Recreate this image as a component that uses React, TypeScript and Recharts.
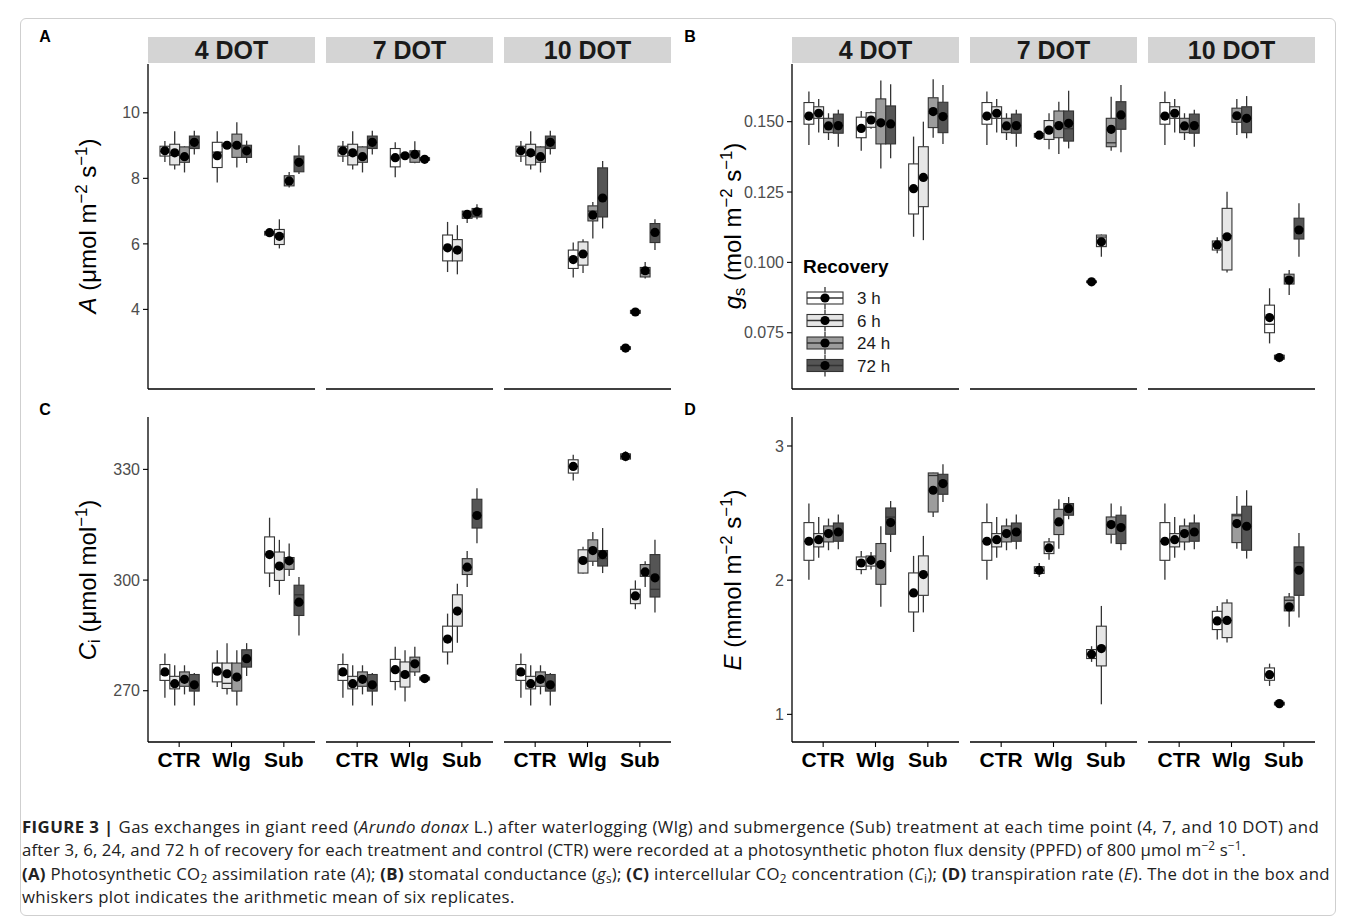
import React from 'react';
import { BarChart, Bar, XAxis, YAxis } from 'recharts';

const TREATMENTS = ['CTR', 'Wlg', 'Sub'];
const RECOVERY = ['3 h', '6 h', '24 h', '72 h'];
const DOT_LABELS = ['4 DOT', '7 DOT', '10 DOT'];
const RECOVERY_FILLS = ['#ffffff', '#e6e6e6', '#9c9c9c', '#555555'];

// each box: [min, q1, median, q3, max, mean], one row per recovery time (3, 6, 24, 72 h)
type Box = number[];

// ---- A: net CO2 assimilation ----
const A_CTR: Box[] = [
  [8.50, 8.68, 8.82, 8.98, 9.14, 8.84],
  [8.27, 8.41, 8.70, 9.04, 9.44, 8.78],
  [8.18, 8.49, 8.62, 8.96, 8.98, 8.66],
  [8.73, 8.91, 9.10, 9.29, 9.45, 9.10],
];
const A_4DOT_WLG: Box[] = [
  [7.87, 8.33, 8.80, 9.10, 9.44, 8.69],
  [8.95, 8.98, 9.01, 9.04, 9.06, 9.01],
  [8.33, 8.64, 9.00, 9.35, 9.71, 9.01],
  [8.47, 8.64, 8.84, 9.01, 9.15, 8.84],
];
const A_4DOT_SUB: Box[] = [
  [6.24, 6.27, 6.33, 6.38, 6.42, 6.34],
  [5.86, 5.98, 6.30, 6.44, 6.75, 6.23],
  [7.72, 7.77, 7.92, 8.08, 8.19, 7.92],
  [8.13, 8.20, 8.50, 8.68, 9.01, 8.49],
];
const A_7DOT_WLG: Box[] = [
  [8.03, 8.35, 8.62, 8.91, 9.10, 8.63],
  [8.62, 8.65, 8.69, 8.73, 8.76, 8.69],
  [8.46, 8.49, 8.72, 8.84, 9.13, 8.73],
  [8.50, 8.55, 8.58, 8.63, 8.65, 8.58],
];
const A_7DOT_SUB: Box[] = [
  [5.14, 5.48, 5.85, 6.27, 6.67, 5.88],
  [5.07, 5.48, 5.80, 6.13, 6.57, 5.81],
  [6.64, 6.78, 6.90, 7.00, 7.02, 6.90],
  [6.75, 6.82, 6.98, 7.08, 7.21, 6.98],
];
const A_10DOT_WLG: Box[] = [
  [4.97, 5.25, 5.55, 5.81, 6.04, 5.52],
  [5.11, 5.35, 5.70, 6.06, 6.14, 5.69],
  [6.16, 6.70, 7.00, 7.16, 7.28, 6.88],
  [6.47, 6.82, 7.40, 8.32, 8.53, 7.40],
];
const A_10DOT_SUB: Box[] = [
  [2.75, 2.78, 2.82, 2.86, 2.90, 2.82],
  [3.85, 3.88, 3.92, 3.97, 4.00, 3.92],
  [4.94, 4.99, 5.10, 5.28, 5.45, 5.18],
  [5.81, 6.04, 6.35, 6.62, 6.75, 6.35],
];

// ---- B: stomatal conductance ----
const B_CTR: Box[] = [
  [0.1417, 0.1491, 0.1520, 0.1568, 0.1607, 0.1520],
  [0.1462, 0.1512, 0.1530, 0.1553, 0.1581, 0.1530],
  [0.1435, 0.1461, 0.1485, 0.1512, 0.1530, 0.1485],
  [0.1411, 0.1459, 0.1486, 0.1527, 0.1542, 0.1486],
];
const B_4DOT_WLG: Box[] = [
  [0.1397, 0.1443, 0.1480, 0.1516, 0.1538, 0.1476],
  [0.1475, 0.1480, 0.1506, 0.1532, 0.1536, 0.1506],
  [0.1334, 0.1421, 0.1500, 0.1581, 0.1646, 0.1496],
  [0.1370, 0.1421, 0.1495, 0.1556, 0.1633, 0.1492],
];
const B_4DOT_SUB: Box[] = [
  [0.1091, 0.1172, 0.1265, 0.1350, 0.1447, 0.1262],
  [0.1079, 0.1198, 0.1300, 0.1411, 0.1500, 0.1302],
  [0.1443, 0.1479, 0.1530, 0.1585, 0.1651, 0.1536],
  [0.1421, 0.1461, 0.1520, 0.1569, 0.1630, 0.1518],
];
const B_7DOT_WLG: Box[] = [
  [0.1442, 0.1445, 0.1452, 0.1458, 0.1461, 0.1452],
  [0.1402, 0.1437, 0.1472, 0.1504, 0.1530, 0.1470],
  [0.1385, 0.1443, 0.1486, 0.1538, 0.1571, 0.1486],
  [0.1405, 0.1431, 0.1475, 0.1538, 0.1610, 0.1494],
];
const B_7DOT_SUB: Box[] = [
  [0.0926, 0.0928, 0.0931, 0.0934, 0.0936, 0.0931],
  [0.1020, 0.1056, 0.1090, 0.1097, 0.1099, 0.1073],
  [0.1397, 0.1411, 0.1425, 0.1512, 0.1589, 0.1473],
  [0.1391, 0.1473, 0.1520, 0.1571, 0.1630, 0.1524],
];
const B_10DOT_WLG: Box[] = [
  [0.1032, 0.1044, 0.1062, 0.1076, 0.1089, 0.1062],
  [0.0964, 0.0973, 0.1095, 0.1192, 0.1251, 0.1091],
  [0.1453, 0.1498, 0.1521, 0.1548, 0.1581, 0.1521],
  [0.1441, 0.1461, 0.1512, 0.1553, 0.1591, 0.1512],
];
const B_10DOT_SUB: Box[] = [
  [0.0712, 0.0750, 0.0780, 0.0848, 0.0908, 0.0804],
  [0.0645, 0.0656, 0.0662, 0.0670, 0.0678, 0.0662],
  [0.0884, 0.0923, 0.0945, 0.0958, 0.0973, 0.0937],
  [0.1020, 0.1083, 0.1120, 0.1157, 0.1210, 0.1115],
];

// ---- C: intercellular CO2 ----
const C_CTR: Box[] = [
  [268.1, 272.8, 274.5, 277.1, 280.1, 275.1],
  [266.0, 270.5, 272.0, 273.9, 276.9, 271.9],
  [269.0, 271.2, 273.0, 275.1, 276.9, 273.1],
  [266.0, 269.9, 271.5, 274.4, 274.8, 271.6],
];
const C_4DOT_WLG: Box[] = [
  [271.0, 272.4, 275.0, 277.5, 281.0, 275.3],
  [269.0, 270.6, 272.0, 277.5, 282.9, 274.6],
  [266.0, 269.9, 273.5, 277.5, 281.0, 273.7],
  [274.0, 276.4, 278.5, 281.1, 282.9, 278.7],
];
const C_4DOT_SUB: Box[] = [
  [298.1, 301.9, 307.0, 311.7, 316.9, 306.9],
  [296.0, 299.9, 303.5, 307.6, 310.9, 303.8],
  [301.1, 302.9, 305.0, 306.1, 309.9, 305.2],
  [285.0, 290.4, 296.0, 298.6, 300.8, 294.0],
];
const C_7DOT_WLG: Box[] = [
  [270.1, 272.5, 275.5, 278.5, 281.9, 275.7],
  [267.1, 271.0, 274.0, 277.8, 281.0, 274.4],
  [274.0, 275.1, 277.5, 279.1, 281.9, 277.3],
  [272.5, 272.9, 273.3, 273.7, 274.2, 273.3],
];
const C_7DOT_SUB: Box[] = [
  [277.1, 280.5, 284.0, 287.5, 290.9, 284.0],
  [283.0, 287.5, 291.5, 296.0, 299.0, 291.6],
  [298.1, 301.5, 303.5, 305.8, 307.9, 303.5],
  [310.0, 314.1, 317.5, 321.9, 324.9, 317.5],
];
const C_10DOT_WLG: Box[] = [
  [327.0, 329.0, 330.8, 332.6, 334.0, 330.8],
  [301.8, 301.9, 305.0, 308.2, 309.0, 305.3],
  [303.8, 305.1, 308.0, 310.9, 313.0, 308.0],
  [301.9, 303.8, 305.8, 308.0, 314.1, 306.9],
];
const C_10DOT_SUB: Box[] = [
  [332.2, 332.8, 333.5, 334.2, 334.9, 333.5],
  [292.1, 293.6, 296.0, 297.5, 299.9, 295.7],
  [298.1, 301.0, 302.5, 304.2, 305.1, 302.2],
  [291.2, 295.4, 297.5, 306.9, 310.9, 300.6],
];

// ---- D: transpiration ----
const D_CTR: Box[] = [
  [2.004, 2.148, 2.29, 2.429, 2.571, 2.290],
  [2.168, 2.248, 2.30, 2.347, 2.471, 2.302],
  [2.223, 2.285, 2.35, 2.404, 2.459, 2.347],
  [2.230, 2.290, 2.36, 2.426, 2.489, 2.359],
];
const D_4DOT_WLG: Box[] = [
  [2.044, 2.079, 2.13, 2.173, 2.218, 2.128],
  [2.080, 2.105, 2.15, 2.180, 2.210, 2.148],
  [1.801, 1.969, 2.12, 2.273, 2.402, 2.116],
  [2.210, 2.342, 2.47, 2.538, 2.590, 2.429],
];
const D_4DOT_SUB: Box[] = [
  [1.614, 1.763, 1.90, 2.054, 2.181, 1.905],
  [1.760, 1.887, 2.04, 2.181, 2.330, 2.042],
  [2.471, 2.508, 2.78, 2.799, 2.800, 2.670],
  [2.583, 2.640, 2.72, 2.789, 2.864, 2.720],
];
const D_7DOT_WLG: Box[] = [
  [2.024, 2.050, 2.074, 2.100, 2.128, 2.074],
  [2.153, 2.198, 2.24, 2.285, 2.315, 2.240],
  [2.235, 2.340, 2.43, 2.528, 2.603, 2.434],
  [2.454, 2.484, 2.53, 2.571, 2.620, 2.533],
];
const D_7DOT_SUB: Box[] = [
  [1.391, 1.416, 1.45, 1.483, 1.508, 1.448],
  [1.075, 1.361, 1.50, 1.657, 1.808, 1.490],
  [2.273, 2.342, 2.41, 2.471, 2.571, 2.414],
  [2.223, 2.273, 2.40, 2.484, 2.551, 2.392],
];
const D_10DOT_WLG: Box[] = [
  [1.557, 1.632, 1.70, 1.768, 1.808, 1.696],
  [1.535, 1.572, 1.70, 1.830, 1.858, 1.700],
  [2.235, 2.280, 2.48, 2.491, 2.628, 2.422],
  [2.161, 2.223, 2.40, 2.551, 2.670, 2.402],
];
const D_10DOT_SUB: Box[] = [
  [1.212, 1.254, 1.30, 1.346, 1.378, 1.296],
  [1.060, 1.070, 1.08, 1.090, 1.100, 1.080],
  [1.652, 1.771, 1.85, 1.875, 1.905, 1.801],
  [1.721, 1.887, 2.13, 2.248, 2.352, 2.074],
];

const A_TICKS = [4, 6, 8, 10];
const B_TICKS = [0.075, 0.1, 0.125, 0.15];
const C_TICKS = [270, 300, 330];
const D_TICKS = [1, 2, 3];

const FONT = '"Liberation Sans", Arial, sans-serif';
const FACET_W = 167;
const FACET_STEP = 178;
const PLOT_H = 325;
const Y_AXIS_W = 60;
const OUTLINE = '#333333';

interface PanelDef {
  facets: Box[][][]; // [dot][treatment][recovery]
  domain: [number, number];
  ticks: number[];
  fmt: (v: number) => string;
  axisX: number;
  plotTop: number;
  bottomRow: boolean;
}

const PANELS: PanelDef[] = [
  {
    facets: [[A_CTR, A_4DOT_WLG, A_4DOT_SUB], [A_CTR, A_7DOT_WLG, A_7DOT_SUB], [A_CTR, A_10DOT_WLG, A_10DOT_SUB]],
    domain: [1.57, 11.49], ticks: A_TICKS, fmt: (v) => String(v), axisX: 148, plotTop: 64, bottomRow: false,
  },
  {
    facets: [[B_CTR, B_4DOT_WLG, B_4DOT_SUB], [B_CTR, B_7DOT_WLG, B_7DOT_SUB], [B_CTR, B_10DOT_WLG, B_10DOT_SUB]],
    domain: [0.055, 0.1705], ticks: B_TICKS, fmt: (v) => v.toFixed(3), axisX: 792, plotTop: 64, bottomRow: false,
  },
  {
    facets: [[C_CTR, C_4DOT_WLG, C_4DOT_SUB], [C_CTR, C_7DOT_WLG, C_7DOT_SUB], [C_CTR, C_10DOT_WLG, C_10DOT_SUB]],
    domain: [256.1, 344.2], ticks: C_TICKS, fmt: (v) => String(v), axisX: 148, plotTop: 417, bottomRow: true,
  },
  {
    facets: [[D_CTR, D_4DOT_WLG, D_4DOT_SUB], [D_CTR, D_7DOT_WLG, D_7DOT_SUB], [D_CTR, D_10DOT_WLG, D_10DOT_SUB]],
    domain: [0.794, 3.216], ticks: D_TICKS, fmt: (v) => String(v), axisX: 792, plotTop: 417, bottomRow: true,
  },
];

// draws one box + whiskers + mean dot; pixel positions come from the range bar [min, max]
function BoxShape(props: any) {
  const { x, y, width, height, payload, idx } = props;
  const b: Box = payload.boxes[idx];
  const [lo, q1, med, q3, hi, mean] = b;
  const k = height / (hi - lo);
  const py = (v: number) => y + (hi - v) * k;
  const cx = x + width / 2;
  return (
    <g>
      <line x1={cx} x2={cx} y1={py(hi)} y2={py(q3)} stroke={OUTLINE} strokeWidth={1.3} />
      <line x1={cx} x2={cx} y1={py(q1)} y2={py(lo)} stroke={OUTLINE} strokeWidth={1.3} />
      <rect x={x} y={py(q3)} width={width} height={Math.max(py(q1) - py(q3), 0.5)}
        fill={RECOVERY_FILLS[idx]} stroke={OUTLINE} strokeWidth={1.1} />
      <line x1={x} x2={x + width} y1={py(med)} y2={py(med)} stroke={OUTLINE} strokeWidth={1.3} />
      <circle cx={cx} cy={py(mean)} r={4.6} fill="#000" />
    </g>
  );
}

function Facet({ panel, dotIdx }: { panel: PanelDef; dotIdx: number }) {
  const boxes = panel.facets[dotIdx];
  const data = TREATMENTS.map((name, i) => ({
    name,
    boxes: boxes[i],
    r0: [boxes[i][0][0], boxes[i][0][4]],
    r1: [boxes[i][1][0], boxes[i][1][4]],
    r2: [boxes[i][2][0], boxes[i][2][4]],
    r3: [boxes[i][3][0], boxes[i][3][4]],
  }));
  const showY = dotIdx === 0;
  const facetLeft = panel.axisX + dotIdx * FACET_STEP;
  const xAxisH = panel.bottomRow ? 42 : 10;
  const width = FACET_W + (showY ? Y_AXIS_W : 0);
  return (
    <div style={{ position: 'absolute', left: facetLeft - (showY ? Y_AXIS_W : 0), top: panel.plotTop }}>
      <BarChart width={width} height={PLOT_H + xAxisH} data={data}
        margin={{ top: 0, right: 0, bottom: 0, left: 0 }} barSize={9.8} barGap={0}>
        <XAxis dataKey="name" padding={{ left: 5, right: 5 }} height={xAxisH}
          axisLine={{ stroke: '#000', strokeWidth: 1.3 }} tickLine={{ stroke: '#000', strokeWidth: 1.1 }}
          tickSize={5} tickMargin={5} interval={0}
          tick={panel.bottomRow ? { fontSize: 21, fontWeight: 700, fill: '#000' } : false} />
        <YAxis type="number" domain={panel.domain} ticks={panel.ticks} hide={!showY} width={Y_AXIS_W}
          tickFormatter={panel.fmt} axisLine={{ stroke: '#000', strokeWidth: 1.3 }}
          tickLine={{ stroke: '#000', strokeWidth: 1.1 }} tickSize={5} tickMargin={3}
          tick={{ fontSize: 16, fill: '#4d4d4d' }} />
        {RECOVERY.map((r, ri) => (
          <Bar key={r} dataKey={`r${ri}`} isAnimationActive={false}
            shape={(p: any) => <BoxShape {...p} idx={ri} />} />
        ))}
      </BarChart>
    </div>
  );
}

function Strip({ left, label }: { left: number; label: string }) {
  return (
    <div style={{
      position: 'absolute', left, top: 37, width: FACET_W, height: 26, background: '#d4d4d4',
      fontWeight: 700, fontSize: 25, lineHeight: '27px', textAlign: 'center', color: '#1a1a1a',
    }}>{label}</div>
  );
}

function AxisTitle({ cx, cy, children }: { cx: number; cy: number; children: React.ReactNode }) {
  return (
    <div style={{
      position: 'absolute', left: cx, top: cy, transform: 'translate(-50%, -50%) rotate(-90deg)',
      whiteSpace: 'nowrap', fontSize: 24, color: '#000', lineHeight: '28px',
    }}>{children}</div>
  );
}

const sup: React.CSSProperties = { fontSize: '0.7em', verticalAlign: '0.55em', lineHeight: 0 };
const sub: React.CSSProperties = { fontSize: '0.7em', verticalAlign: '-0.25em', lineHeight: 0 };

function Legend() {
  const rows = [298, 320.5, 343, 365.5];
  return (
    <svg style={{ position: 'absolute', left: 795, top: 250 }} width={110} height={130}>
      <text x={8} y={23} fontSize={19} fontWeight={700} fill="#000">Recovery</text>
      {RECOVERY.map((r, i) => {
        const cy = rows[i] - 250;
        return (
          <g key={r}>
            <line x1={30} x2={30} y1={cy - 11} y2={cy + 11} stroke={OUTLINE} strokeWidth={1.3} />
            <rect x={12} y={cy - 6} width={36} height={12} fill={RECOVERY_FILLS[i]} stroke={OUTLINE} strokeWidth={1.1} />
            <line x1={12} x2={48} y1={cy} y2={cy} stroke={OUTLINE} strokeWidth={1.3} />
            <circle cx={30} cy={cy} r={4.6} fill="#000" />
            <text x={62} y={cy + 6} fontSize={17} fill="#1a1a1a">{r}</text>
          </g>
        );
      })}
    </svg>
  );
}

const CAPTION_LINES: React.ReactNode[] = [
  <><b>FIGURE 3 |</b> Gas exchanges in giant reed (<i>Arundo donax</i> L.) after waterlogging (Wlg) and submergence (Sub) treatment at each time point (4, 7, and 10 DOT) and</>,
  <>after 3, 6, 24, and 72 h of recovery for each treatment and control (CTR) were recorded at a photosynthetic photon flux density (PPFD) of 800 μmol m<sup style={sup}>−2</sup> s<sup style={sup}>−1</sup>.</>,
  <><b>(A)</b> Photosynthetic CO<sub style={sub}>2</sub> assimilation rate (<i>A</i>); <b>(B)</b> stomatal conductance (<i>g</i><sub style={sub}>s</sub>); <b>(C)</b> intercellular CO<sub style={sub}>2</sub> concentration (<i>C</i><sub style={sub}>i</sub>); <b>(D)</b> transpiration rate (<i>E</i>). The dot in the box and</>,
  <>whiskers plot indicates the arithmetic mean of six replicates.</>,
];
const CAPTION_SPACING = [0.41, 0.14, 0.28, 0.35];

export default function App() {
  return (
    <div style={{ position: 'absolute', left: 0, top: 0, width: 1355, height: 922, background: '#fff', fontFamily: FONT, overflow: 'hidden' }}>
      <div style={{ position: 'absolute', left: 20, top: 18, width: 1314, height: 896, border: '1px solid #cfcfcf', borderRadius: 6 }} />
      {[['A', 45, 37], ['B', 690, 37], ['C', 45, 410], ['D', 690, 410]].map(([l, x, y]) => (
        <div key={l as string} style={{ position: 'absolute', left: x as number, top: y as number, transform: 'translate(-50%, -50%)', fontWeight: 700, fontSize: 16 }}>{l}</div>
      ))}
      {[148, 792].map((ax) => DOT_LABELS.map((d, i) => <Strip key={`${ax}-${d}`} left={ax + i * FACET_STEP} label={d} />))}
      {PANELS.map((p, pi) => [0, 1, 2].map((di) => <Facet key={`${pi}-${di}`} panel={p} dotIdx={di} />))}
      <AxisTitle cx={88} cy={226}><i>A</i> (μmol m<sup style={sup}>−2</sup> s<sup style={sup}>−1</sup>)</AxisTitle>
      <AxisTitle cx={733} cy={226}><i>g</i><sub style={sub}>s</sub> (mol m<sup style={sup}>−2</sup> s<sup style={sup}>−1</sup>)</AxisTitle>
      <AxisTitle cx={88} cy={580}><i>C</i><sub style={sub}>i</sub> (μmol mol<sup style={sup}>−1</sup>)</AxisTitle>
      <AxisTitle cx={733} cy={580}><i>E</i> (mmol m<sup style={sup}>−2</sup> s<sup style={sup}>−1</sup>)</AxisTitle>
      <Legend />
      <div style={{ position: 'absolute', left: 22, top: 815, fontFamily: '"Open Sans", sans-serif', fontSize: 16.8, color: '#222', lineHeight: '23.3px', whiteSpace: 'nowrap' }}>
        {CAPTION_LINES.map((l, i) => <div key={i} style={{ letterSpacing: CAPTION_SPACING[i] }}>{l}</div>)}
      </div>
    </div>
  );
}
